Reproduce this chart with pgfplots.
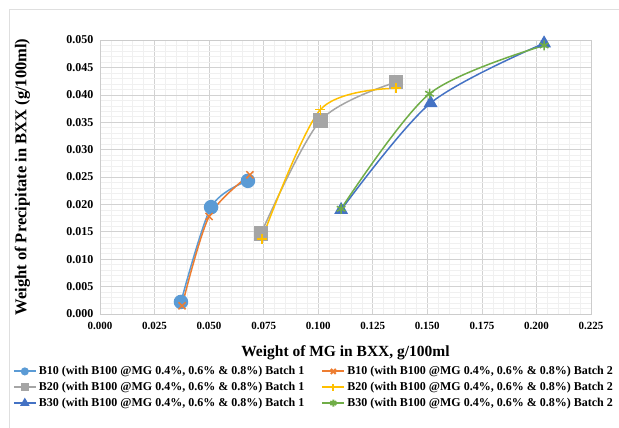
\documentclass[border=0pt]{standalone}
\usepackage{fontspec}
\setmainfont{Liberation Serif}
\usepackage{pgfplots}
\pgfplotsset{compat=1.18}
\definecolor{cB}{HTML}{5B9BD5}
\definecolor{cO}{HTML}{ED7D31}
\definecolor{cG}{HTML}{A5A5A5}
\definecolor{cY}{HTML}{FFC000}
\definecolor{cD}{HTML}{4472C4}
\definecolor{cGr}{HTML}{70AD47}
\pgfplotsset{myleg/.style={legend image code/.code={\draw[mark repeat=2,mark phase=2] plot coordinates {(0pt,0pt) (11pt,0pt) (22pt,0pt)};}}}
\begin{document}
\begin{tikzpicture}[x=1pt,y=1pt]
\path[use as bounding box] (0,0) rectangle (619,428);
\draw[gray!25, line width=1pt] (9,0) -- (9,418) -- (619,418);
\begin{axis}[
  at={(100pt,114pt)}, anchor=south west,
  scale only axis, width=491pt, height=274pt,
  xmin=0, xmax=0.225, ymin=0, ymax=0.05,
  xtick={0,0.025,...,0.225}, ytick={0,0.005,...,0.05},
  minor x tick num=4, minor y tick num=4,
  grid=both,
  major grid style={gray!35, line width=0.6pt},
  minor grid style={gray!12, line width=0.5pt},
  axis line style={gray!40},
  tick style={draw=none},
  /pgf/number format/assume math mode=true,
  xticklabel={\pgfmathprintnumber[fixed,fixed zerofill,precision=3]{\tick}},
  yticklabel={\pgfmathprintnumber[fixed,fixed zerofill,precision=3]{\tick}},
  scaled x ticks=false, scaled y ticks=false,
  xticklabel style={font=\fontsize{11}{13}\selectfont\bfseries, yshift=-5pt},
  yticklabel style={font=\fontsize{12}{14}\selectfont\bfseries, xshift=-3pt},
  xlabel={Weight of MG in BXX, g/100ml},
  ylabel={Weight of Precipitate in BXX (g/100ml)},
  xlabel style={font=\fontsize{15.5}{17}\selectfont\bfseries, at={(axis description cs:0.5,-0.14)}, anchor=center},
  ylabel style={font=\fontsize{16.5}{18}\selectfont\bfseries, at={(axis description cs:-0.158,0.5)}, anchor=center},
  legend style={at={(axis description cs:-0.18,-0.18)}, anchor=north west,
    draw=none, fill=none, font=\fontsize{12}{14}\selectfont\bfseries,
    /tikz/every even column/.append style={column sep=15pt},
    row sep=2pt, inner sep=1pt},
  legend columns=2,
  legend cell align=left,
  every axis plot/.append style={line width=1.5pt, smooth},
]
\addplot[cB, mark=*, mark size=6.5pt, mark options={fill=cB}, myleg, legend image post style={mark size=3pt, line width=2pt, sharp plot}] coordinates {(0.0371,0.0022) (0.0509,0.0195) (0.0678,0.0243)};
\addlegendentry{B10 (with B100 @MG 0.4\%, 0.6\% \& 0.8\%) Batch 1}
\addplot[cO, mark=x, mark size=5pt, myleg, legend image post style={mark size=3.5pt, line width=2pt, sharp plot}] coordinates {(0.0376,0.0015) (0.0500,0.0178) (0.0687,0.0254)};
\addlegendentry{B10 (with B100 @MG 0.4\%, 0.6\% \& 0.8\%) Batch 2}
\addplot[cG, mark=square*, mark size=6.5pt, mark options={fill=cG}, myleg, legend image post style={mark size=3pt, line width=2pt, sharp plot}] coordinates {(0.0738,0.0147) (0.1010,0.0353) (0.1357,0.0423)};
\addlegendentry{B20 (with B100 @MG 0.4\%, 0.6\% \& 0.8\%) Batch 1}
\addplot[cY, mark=+, mark size=5pt, myleg, legend image post style={mark size=3.5pt, line width=2pt, sharp plot}] coordinates {(0.0742,0.0137) (0.1010,0.0373) (0.1357,0.0412)};
\addlegendentry{B20 (with B100 @MG 0.4\%, 0.6\% \& 0.8\%) Batch 2}
\addplot[cD, mark=triangle*, mark size=6.5pt, mark options={fill=cD}, myleg, legend image post style={mark size=3.5pt, line width=2pt, sharp plot}] coordinates {(0.1105,0.0190) (0.1515,0.0385) (0.2035,0.0494)};
\addlegendentry{B30 (with B100 @MG 0.4\%, 0.6\% \& 0.8\%) Batch 1}
\addplot[cGr, mark=asterisk, mark size=5pt, myleg, legend image post style={mark size=3.5pt, line width=2pt, sharp plot}] coordinates {(0.1105,0.0192) (0.1510,0.0402) (0.2035,0.0490)};
\addlegendentry{B30 (with B100 @MG 0.4\%, 0.6\% \& 0.8\%) Batch 2}
\end{axis}
\end{tikzpicture}
\end{document}
